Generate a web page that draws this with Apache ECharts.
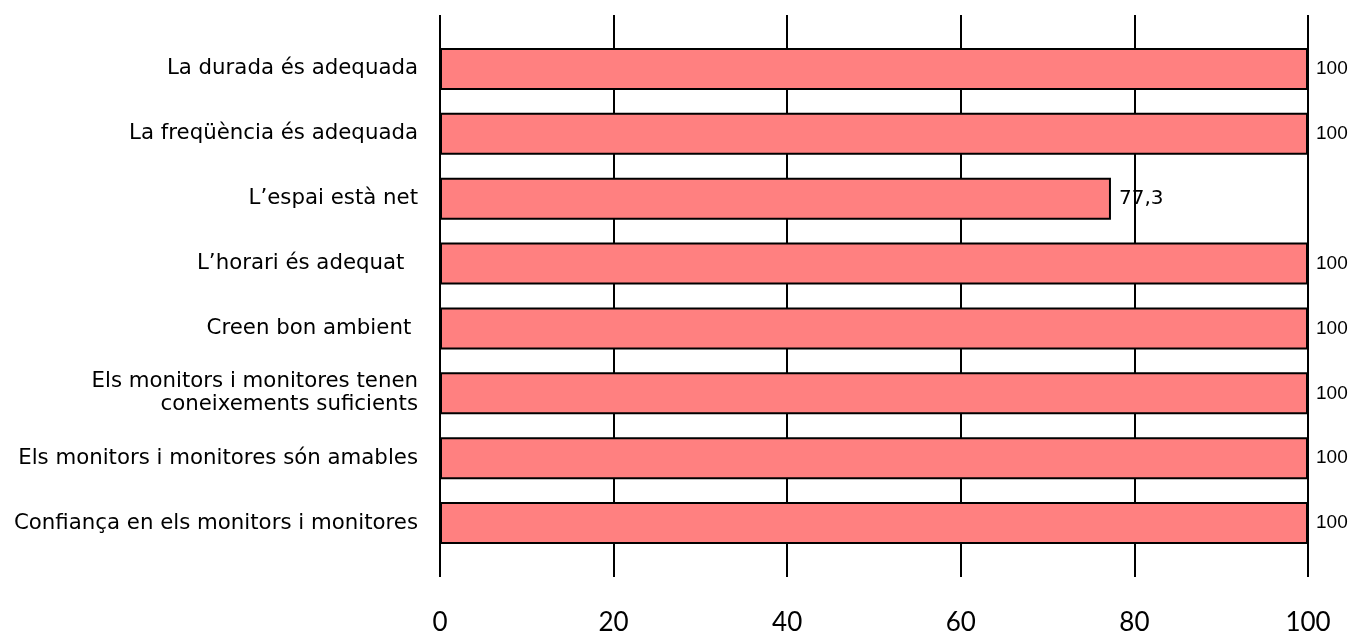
<!DOCTYPE html>
<html><head><meta charset="utf-8">
<script src="https://cdn.jsdelivr.net/npm/echarts@6/dist/echarts.min.js"></script>
<style>html,body{margin:0;padding:0;background:#fff}#c{width:1355px;height:637px}</style>
</head><body><div id="c"></div>
<script>
const categories = [
  "La durada és adequada",
  "La freqüència és adequada",
  "L’espai està net",
  "L’horari és adequat  ",
  "Creen bon ambient ",
  "Els monitors i monitores tenen\nconeixements suficients",
  "Els monitors i monitores són amables",
  "Confiança en els monitors i monitores"
];
const values = [100, 100, 77.3, 100, 100, 100, 100, 100];
const tickValues = [0, 20, 40, 60, 80, 100];

const chart = echarts.init(document.getElementById('c'));
chart.setOption({
  animation: false,
  grid: [
    {left: 440, width: 868, top: 15, height: 562},
    {left: 440, width: 868, top: 36.5, height: 519}
  ],
  xAxis: [
    {gridIndex: 0, type: 'value', min: 0, max: 100, interval: 20,
     axisLine: {show: false}, axisTick: {show: false},
     splitLine: {show: true, lineStyle: {color: '#000', width: 2}},
     axisLabel: {show: true, margin: 33, fontSize: 26, color: '#000', fontFamily: 'Lato',
       formatter: v => tickValues.includes(v) ? String(v) : ''}},
    {gridIndex: 1, type: 'value', min: 0, max: 100, show: false}
  ],
  yAxis: [
    {gridIndex: 0, type: 'category', show: false, data: ['a']},
    {gridIndex: 1, type: 'category', inverse: true, data: categories,
     axisLine: {show: false}, axisTick: {show: false},
     axisLabel: {margin: 22, fontSize: 21.3, color: '#000', fontFamily: 'DejaVu Sans',
       lineHeight: 23, padding: [7, 0, 0, 0]}}
  ],
  series: [{
    type: 'bar', xAxisIndex: 1, yAxisIndex: 1,
    data: values,
    barWidth: 42,
    itemStyle: {color: '#FF8080', borderColor: '#000', borderWidth: 2},
    label: {show: true, position: 'right', distance: 8,
      formatter: p => p.value === 100 ? '{a|100}' : '{b|' + String(p.value).replace('.', ',') + '}',
      rich: {
        a: {fontSize: 19, color: '#000', fontFamily: 'Liberation Sans'},
        b: {fontSize: 20, color: '#000', fontFamily: 'DejaVu Sans'}
      }}
  }]
});
</script></body></html>
